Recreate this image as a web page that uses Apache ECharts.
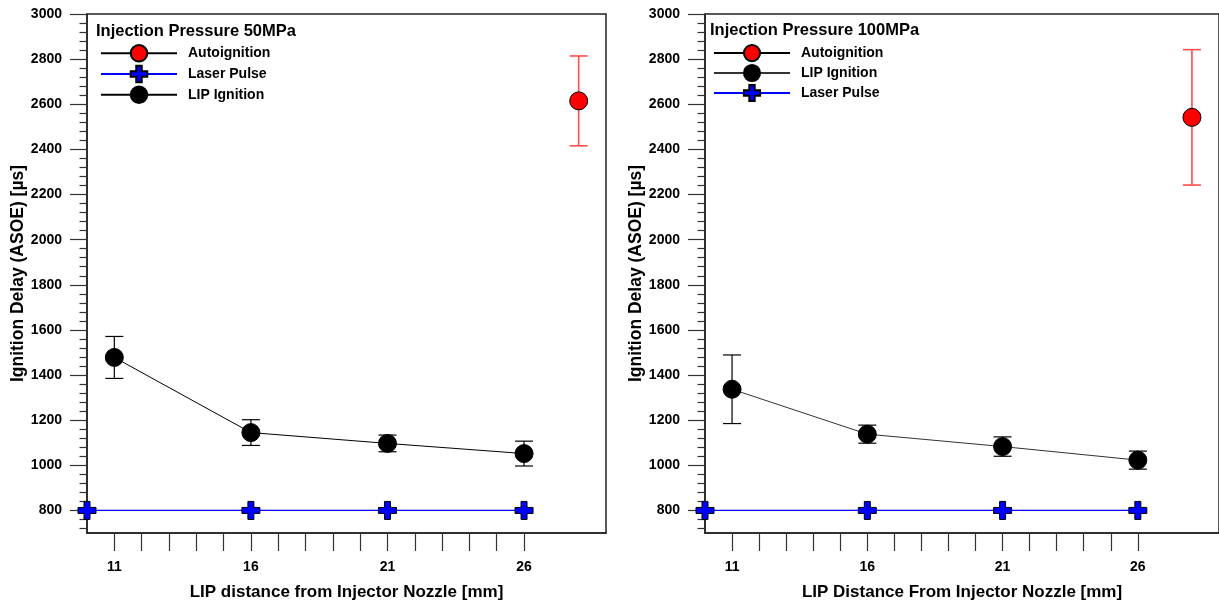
<!DOCTYPE html>
<html><head><meta charset="utf-8">
<script src="https://cdn.jsdelivr.net/npm/echarts@6/dist/echarts.min.js"></script>
<style>html,body{margin:0;padding:0;background:#fff}#c{width:1219px;height:606px}</style>
</head><body><div id="c"></div>
<script>
// ---- data ----
const lipX = [11, 16, 21, 26];
const laserX = [10, 16, 21, 26];
const autoX = [28];

const lip50 = [1478, 1145, 1097, 1052];
const lip50Err = [93, 57, 37, 55];
const laser50 = [800, 800, 800, 800];
const auto50 = [2615];
const auto50Err = [199];

const lip100 = [1337, 1138, 1083, 1023];
const lip100Err = [152, 40, 43, 40];
const laser100 = [800, 800, 800, 800];
const auto100 = [2542];
const auto100Err = [300];

const xTickValues = [11, 12, 13, 14, 15, 16, 17, 18, 19, 20, 21, 22, 23, 24, 25, 26];
const xLabelValues = [11, 16, 21, 26];
const yLabelValues = [800, 1000, 1200, 1400, 1600, 1800, 2000, 2200, 2400, 2600, 2800, 3000];
const yMinorValues = [];
for (let v = 720; v < 3000; v += 40) { if (v % 200 !== 0) yMinorValues.push(v); }

const titles = ['Injection Pressure 50MPa', 'Injection Pressure 100MPa'];
const xNames = ['LIP distance from Injector Nozzle [mm]', 'LIP Distance From Injector Nozzle [mm]'];
const yName = 'Ignition Delay (ASOE) [\u00B5s]';

// ---- styles ----
const FONT = "'Liberation Sans', Arial, sans-serif";
const AX = '#222';
const crossPath = 'path://M6,0 L12,0 L12,6 L18,6 L18,12 L12,12 L12,18 L6,18 L6,12 L0,12 L0,6 L6,6 Z';

function pairs(xs, ys) { return xs.map((x, i) => [x, ys[i]]); }
function errData(xs, ys, es) { return xs.map((x, i) => [x, ys[i] - es[i], ys[i] + es[i]]); }
function errRender(color, lw) {
  return function (params, api) {
    const x = api.value(0), lo = api.value(1), hi = api.value(2);
    const p1 = api.coord([x, hi]), p2 = api.coord([x, lo]);
    const hw = 9;
    const st = { stroke: color, lineWidth: lw };
    return { type: 'group', children: [
      { type: 'line', shape: { x1: p1[0], y1: p1[1], x2: p2[0], y2: p2[1] }, style: st },
      { type: 'line', shape: { x1: p1[0] - hw, y1: p1[1], x2: p1[0] + hw, y2: p1[1] }, style: st },
      { type: 'line', shape: { x1: p2[0] - hw, y1: p2[1], x2: p2[0] + hw, y2: p2[1] }, style: st }
    ]};
  };
}

const gridsPos = [{ left: 87, top: 14, width: 519, height: 519 }, { left: 705, top: 14, width: 519, height: 519 }];

const option = {
  animation: false,
  backgroundColor: '#fff',
  textStyle: { fontFamily: FONT },
  title: [
    { text: titles[0], left: 96, top: 23, padding: 0, textStyle: { fontFamily: FONT, fontWeight: 'bold', fontSize: 16.5, color: '#000' } },
    { text: titles[1], left: 710, top: 22, padding: 0, textStyle: { fontFamily: FONT, fontWeight: 'bold', fontSize: 16.5, color: '#000' } }
  ],
  legend: [
    { data: ['Autoignition', 'Laser Pulse', 'LIP Ignition'], orient: 'vertical', left: 100, top: 44, padding: 0,
      itemWidth: 76, itemHeight: 20.7, itemGap: 2.2,
      textStyle: { fontFamily: FONT, fontWeight: 'bold', fontSize: 14, color: '#000', padding: [0, 0, 0, 6] } },
    { data: ['Autoignition ', 'LIP Ignition ', 'Laser Pulse '], orient: 'vertical', left: 713, top: 44, padding: 0,
      itemWidth: 76, itemHeight: 20.2, itemGap: 1.8,
      textStyle: { fontFamily: FONT, fontWeight: 'bold', fontSize: 14, color: '#000', padding: [0, 0, 0, 6] } }
  ],
  grid: gridsPos.map(g => Object.assign({ show: true, borderColor: AX, borderWidth: 1.5, backgroundColor: 'transparent' }, g)),
  xAxis: [0, 1].map(i => ({
    type: 'value', gridIndex: i, min: 10, max: 29,
    name: xNames[i], nameLocation: 'middle', nameGap: 51,
    nameTextStyle: { fontFamily: FONT, fontWeight: 'bold', fontSize: 17, color: '#000' },
    axisLine: { show: true, lineStyle: { color: AX, width: 1.5 } },
    axisTick: { show: true, customValues: xTickValues, length: 18, inside: false, lineStyle: { color: '#333', width: 1.2 } },
    axisLabel: { customValues: xLabelValues, margin: 27, formatter: v => String(v), fontFamily: FONT, fontWeight: 'bold', fontSize: 14, color: '#000' },
    splitLine: { show: false }
  })),
  yAxis: [0, 1].flatMap(i => ([
    {
      type: 'value', gridIndex: i, min: 700, max: 3000, position: 'left',
      name: yName, nameLocation: 'middle', nameGap: 60,
      nameTextStyle: { fontFamily: FONT, fontWeight: 'bold', fontSize: 17.5, color: '#000' },
      axisLine: { show: true, lineStyle: { color: AX, width: 1.5 } },
      axisTick: { show: true, customValues: yLabelValues, length: 17, lineStyle: { color: '#333', width: 1.2 } },
      axisLabel: { customValues: yLabelValues, margin: 25, formatter: v => String(v), fontFamily: FONT, fontWeight: 'bold', fontSize: 14, color: '#000' },
      splitLine: { show: false }
    },
    {
      type: 'value', gridIndex: i, min: 700, max: 3000, position: 'left',
      axisLine: { show: false },
      axisTick: { show: true, customValues: yMinorValues, length: 7.5, lineStyle: { color: '#333', width: 1.2 } },
      axisLabel: { show: false },
      splitLine: { show: false }
    }
  ])),
  series: []
};

function addPanel(i, lip, lipErr, laser, auto, autoErr, suffix) {
  const yIdx = i * 2;
  option.series.push(
    { type: 'custom', name: 'errLip' + i, xAxisIndex: i, yAxisIndex: yIdx, renderItem: errRender('#000', 1.2),
      encode: { x: 0, y: [1, 2] }, data: errData(lipX, lip, lipErr), z: 2, silent: true },
    { type: 'custom', name: 'errAuto' + i, xAxisIndex: i, yAxisIndex: yIdx, renderItem: errRender('#ff4d4d', 1.6),
      encode: { x: 0, y: [1, 2] }, data: errData(autoX, auto, autoErr), z: 2, silent: true },
    { type: 'line', name: 'Autoignition' + suffix, xAxisIndex: i, yAxisIndex: yIdx, data: pairs(autoX, auto),
      symbol: 'circle', symbolSize: 18, lineStyle: { color: '#000', width: 1.2 },
      itemStyle: { color: '#ff0000', borderColor: '#000', borderWidth: 1 }, z: 5 },
    { type: 'line', name: 'Laser Pulse' + suffix, xAxisIndex: i, yAxisIndex: yIdx, data: pairs(laserX, laser),
      symbol: crossPath, symbolSize: 18, lineStyle: { color: '#0000ff', width: 1.2 },
      itemStyle: { color: '#0000ff', borderColor: '#000', borderWidth: 1 }, z: 5 },
    { type: 'line', name: 'LIP Ignition' + suffix, xAxisIndex: i, yAxisIndex: yIdx, data: pairs(lipX, lip),
      symbol: 'circle', symbolSize: 18, lineStyle: { color: i === 1 ? '#333' : '#000', width: 1 },
      itemStyle: { color: '#000', borderColor: '#000', borderWidth: 1 }, z: 5 }
  );
}
addPanel(0, lip50, lip50Err, laser50, auto50, auto50Err, '');
addPanel(1, lip100, lip100Err, laser100, auto100, auto100Err, ' ');

const chart = echarts.init(document.getElementById('c'), null, { renderer: 'canvas' });
chart.setOption(option);
</script></body></html>
